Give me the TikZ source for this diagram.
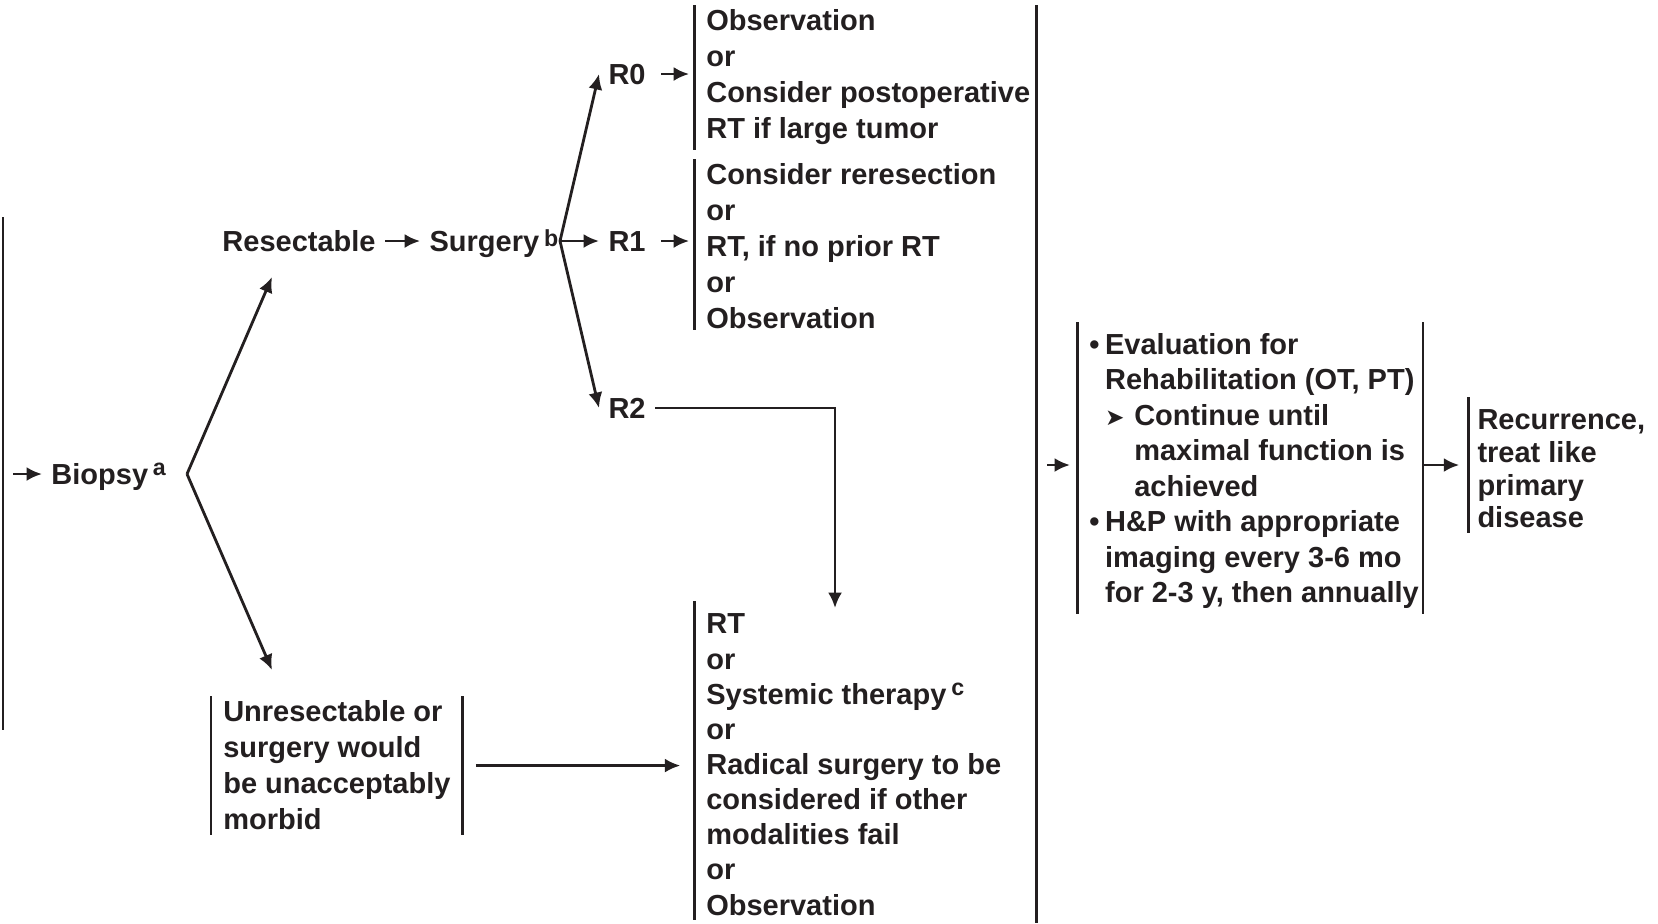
\documentclass[tikz,border=0pt]{standalone}
\usepackage{fontspec}
\setmainfont{Liberation Sans}
\newfontfamily\symbolfont{DejaVu Sans}
\usepackage{tikz}
\usetikzlibrary{positioning}
\usetikzlibrary{calc}
\usetikzlibrary{arrows.meta}
\definecolor{ink}{HTML}{231F20}
\newcommand\fnmark[1]{\,\raisebox{\dimexpr 6.1pt-\height\relax}{\fontsize{6.6}{6.6}\selectfont #1}}

\begin{document}
\begin{tikzpicture}
  \useasboundingbox (0,0) rectangle (16.58,-9.23);

  \def\gap{0.35cm}
  \tikzset{node common/.style={text=ink, font=\fontsize{8.25}{10.24}\selectfont\bfseries}}
  \tikzset{label node/.style={node common, anchor=west, inner xsep=2.5pt, inner ysep=1pt, text height=6pt, text depth=0pt}}
  \tikzset{list node/.style={node common, anchor=north west, align=left, inner xsep=3.3pt, inner ysep=1.2pt}}
  \tikzset{bar line/.style={draw=ink, line width=0.85pt}}
  \tikzset{flow arrow/.style={draw=ink, line width=0.8pt, -{Latex[length=4.4pt,width=4pt]}}}

  % outer bars
  \draw[bar line] (0.03,-2.17) -- (0.03,-7.30);
  \draw[bar line] (10.36,-0.05) -- (10.36,-9.23);

  % biopsy and the first split
  \coordinate (bin) at (0.13,-4.74);
  \node[label node] (biopsy) at (0.42,-4.74) {Biopsy\fnmark{a}};
  \coordinate (bsplit) at (1.87,-4.74);
  \coordinate (resin) at (2.72,-2.77);
  \coordinate (unresin) at (2.72,-6.70);

  \node[label node] (resect) at (2.13,-2.41) {Resectable};
  \node[label node, right=\gap of resect] (surgery) {Surgery\fnmark{b}};
  \coordinate (ssplit) at (5.60,-2.41);

  % margins
  \node[label node] (r0) at (5.99,-0.74) {R0};
  \node[label node] (r1) at (5.99,-2.41) {R1};
  \node[label node] (r2) at (5.99,-4.08) {R2};

  % treatment lists
  \node[list node] (obsbox) at (6.94,-0.05) {Observation\\or\\Consider postoperative\\RT if large tumor};
  \node[list node] (rerbox) at (6.94,-1.59) {Consider reresection\\or\\RT, if no prior RT\\or\\Observation};
  \node[list node, font=\fontsize{8.25}{10}\selectfont\bfseries] (rtbox) at (6.94,-6.09)
    {RT\\or\\Systemic therapy\fnmark{c}\\or\\Radical surgery to be\\considered if other\\modalities fail\\or\\Observation};
  \node[list node] (unres) at (2.11,-6.96) {Unresectable or\\surgery would\\be unacceptably\\morbid};

  % follow-up
  \node[list node, font=\fontsize{8.25}{10.1}\selectfont\bfseries] (fubox) at (10.77,-3.285)
    {\makebox[4.5pt][l]{\textbullet}Evaluation for\\
     \hspace*{4.5pt}Rehabilitation (OT, PT)\\
     \hspace*{4.5pt}\makebox[8.3pt][l]{\symbolfont\fontsize{6.6}{6.6}\selectfont ➤}Continue until\\
     \hspace*{12.8pt}maximal function is\\
     \hspace*{12.8pt}achieved\\
     \makebox[4.5pt][l]{\textbullet}H\&P with appropriate\\
     \hspace*{4.5pt}imaging every 3-6 mo\\
     \hspace*{4.5pt}for 2-3 y, then annually};
  \node[list node, inner xsep=2.5pt, font=\fontsize{8.25}{9.3}\selectfont\bfseries] (recbox) at (14.68,-4.05)
    {Recurrence,\\treat like\\primary\\disease};

  % bars of the lists
  \draw[bar line] (obsbox.north west) -- (obsbox.south west);
  \draw[bar line] (rerbox.north west) -- ([yshift=0.04cm]rerbox.south west);
  \draw[bar line] ([yshift=0.08cm]rtbox.north west) -- (rtbox.south west);
  \draw[bar line] (unres.north west) -- (unres.south west);
  \draw[bar line] (unres.north east) -- (unres.south east);
  \draw[bar line] ([yshift=0.065cm]fubox.north west) -- (fubox.south west);
  \draw[bar line] ([xshift=-2.3pt,yshift=0.065cm]fubox.north east) -- ([xshift=-2.3pt]fubox.south east);
  \draw[bar line] ([yshift=0.08cm]recbox.north west) -- (recbox.south west);

  % arrows
  \draw[flow arrow] (bin) -- (biopsy.west);
  \draw[flow arrow] (bsplit) -- (resin);
  \draw[flow arrow] (bsplit) -- (unresin);
  \draw[flow arrow] (resect) -- (surgery);
  \draw[flow arrow] (ssplit) -- (r0.west);
  \draw[flow arrow] (ssplit) -- (r1.west);
  \draw[flow arrow] (ssplit) -- (r2.west);
  \draw[flow arrow, shorten <=1.7pt, shorten >=1.4pt] (r0.east) -- (r0.east -| obsbox.west);
  \draw[flow arrow, shorten <=1.7pt, shorten >=1.4pt] (r1.east) -- (r1.east -| rerbox.west);
  \coordinate (rtin) at ($(rtbox.north west)+(1.41,0.01)$);
  \draw[flow arrow] (r2.east) -| (rtin);
  \draw[flow arrow, shorten <=3.7pt, shorten >=3.9pt] (unres.east) -- (unres.east -| rtbox.west);
  \coordinate (fuin) at (10.47,-4.65);
  \draw[flow arrow, shorten >=2pt] (fuin) -- (fuin -| fubox.west);
  \path (fubox.east |- fuin) ++(-2.3pt,0) coordinate (fuout);
  \draw[flow arrow, shorten >=2.5pt] (fuout) -- (fuout -| recbox.west);
\end{tikzpicture}
\end{document}
